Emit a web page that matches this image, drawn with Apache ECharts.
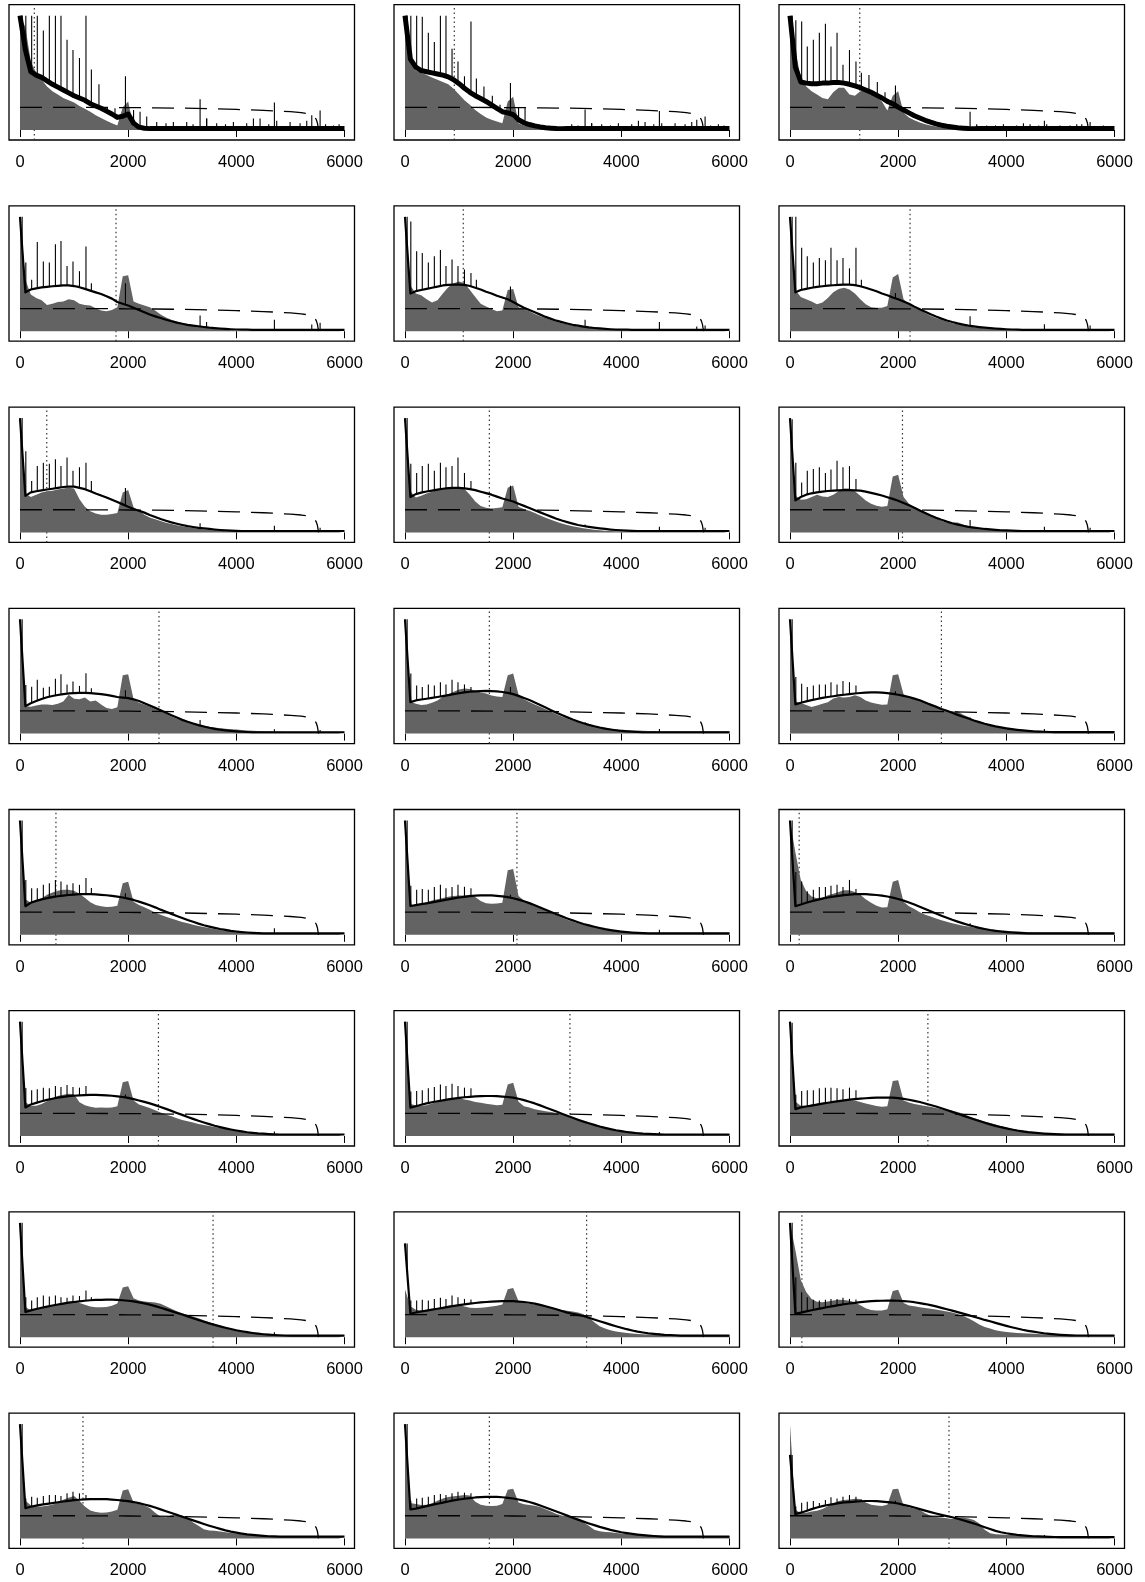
<!DOCTYPE html>
<html><head><meta charset="utf-8">
<script src="https://cdn.jsdelivr.net/npm/echarts@6/dist/echarts.min.js"></script>
<style>html,body{margin:0;padding:0;background:#fff}#c{width:1145px;height:1582px}</style>
</head><body><div id="c"></div>
<script>
const xs = [0,100,200,300,400,500,600,700,800,900,1000,1100,1200,1300,1400,1500,1600,1700,1800,1900,2000,2100,2200,2300,2400,2500,2600,2700,2800,2900,3000,3100,3200,3300,3400,3500,3600,3700,3800,3900,4000,4100,4200,4300,4400,4500,4600,4700,4800,4900,5000,5100,5200,5300,5400,5500,5600,5700,5800,5900,6000];
const tickValues = [0,2000,4000,6000];
const dashX = [0,1000,2000,2500,3000,3500,4000,4500,5000,5200,5300,5400,5450,5480,5500,5510,5520];
const dashY = [19.8,19.8,19.6,19.4,19.1,18.6,18,17.2,16,15.2,14.5,13,11.5,9,6,3,0];
const spikeX = [40,108,216,320,432,543,655,758,870,980,1100,1220,1320,1460,1615,1757,1950,2100,2220,3330,3450,4704,5395,5549];
const noiseX = [2343,2528,2700,2836,3083,3200,3453,3637,3800,3946,4192,4316,4439,4600,4747,4994,5179,5302,5650,5795,5900];
const dotX = [265,912,1290,1776,1078,2220,495,1560,2080,2570,1560,2800,665,2070,170,2560,3050,2550,3570,3358,220,1165,1560,2940];

const gray01 = [100,90,60,50,44,38,34,31,28,26, 24,21,18.5,16,13,10.5,8,6,4,20, 25,3,1.5,0.5,0.3,0.3,0.3,0.3,0.3,0.3, 0.3,0.3,0.3,0.3,0.3,0.3,0.3,0.3,0.3,0.3, 0.3,0.3,0.3,0.3,0.3,0.3,0.3,0.3,0.3,0.3, 0.3,0.3,0.3,0.3,0.3,0.3,0.3,0.3,0.3,0.3, 0.3];
const line01 = [100,70,51,48,46,43,40,37.5,35,32.5, 30,28,26,23,21,19,16.5,14,11,12, 14,6,2.5,1.5,1.2,1.2,1.2,1.2,1.2,1.2, 1.2,1.2,1.2,1.2,1.2,1.2,1.2,1.2,1.2,1.2, 1.2,1.2,1.2,1.2,1.2,1.2,1.2,1.2,1.2,1.2, 1.2,1.2,1.2,1.2,1.2,1.2,1.2,1.2,1.2,1.2, 1.2];
const spk01 = [100,100,100,100,87,100,100,100,79,70,63,100,53,40,20,19,47,17.5,16,27,10,24,13,17];
const noise01 = [11.7,7,6,7,7,5,10,6,5,7,6,10,10,5,8,7,6,8,5,4,5];

const gray02 = [100,62,52,50,48,46,44,42,40,36, 31,26,22,17.5,14,11,9,7.5,6,25, 29,6,4,3,2.3,2,1.5,1.2,0.6,0.3, 0.3,0.3,0.3,0.3,0.3,0.3,0.3,0.3,0.3,0.3, 0.3,0.3,0.3,0.3,0.3,0.3,0.3,0.3,0.3,0.3, 0.3,0.3,0.3,0.3,0.3,0.3,0.3,0.3,0.3,0.3, 0.3];
const line02 = [100,62,55,52,51,50,49,48,46.5,44, 40.5,36.5,33,30,27.5,25,22,19,16,15, 13.5,9,6.3,4.8,3.6,2.7,2,1.6,1.3,1.2, 1.2,1.2,1.2,1.2,1.2,1.2,1.2,1.2,1.2,1.2, 1.2,1.2,1.2,1.2,1.2,1.2,1.2,1.2,1.2,1.2, 1.2,1.2,1.2,1.2,1.2,1.2,1.2,1.2,1.2,1.2, 1.2];
const spk02 = [100,100,100,99,85,77,100,100,71,60,47,95,45,38,30,22,41,20,20,18,6,16.6,9,11.7];
const noise02 = [0,0,0,0,5,4,6,5,4,6,5,8,7,5,6,6,5,7,4,5,4];

const gray03 = [100,70,45,38,34,31,28,27,33,37, 37,31,30,34,35,32,29,25,17,30, 34,15,11,8.5,6.5,5,4,3,2,1.5, 1,0.5,0.3,0.3,0.3,0.3,0.3,0.3,0.3,0.3, 0.3,0.3,0.3,0.3,0.3,0.3,0.3,0.3,0.3,0.3, 0.3,0.3,0.3,0.3,0.3,0.3,0.3,0.3,0.3,0.3, 0.3];
const line03 = [100,55,42,41,40.5,40.5,41,41,41.5,41.5, 41,40,38.5,37,35,33,30.5,28,25,23, 20,17.5,15,12.5,10.5,8.5,6.8,5.3,4.2,3.3, 2.6,2,1.6,1.3,1.2,1.2,1.2,1.2,1.2,1.2, 1.2,1.2,1.2,1.2,1.2,1.2,1.2,1.2,1.2,1.2, 1.2,1.2,1.2,1.2,1.2,1.2,1.2,1.2,1.2,1.2, 1.2];
const spk03 = [100,96,95,73,79,85,93,73,85,57,70,60,50,48,42,33,39,20,14,16,4,8,5,7];
const noise03 = [0,0,0,0,0,0,5,4,4,5,4,6,5,4,5,4,4,5,3,4,3];

const gray04 = [100,45,32,29,27,23,24,25.5,26,28, 27,24,23,22.5,20,18,17.5,18.5,21,48, 49,26,24,22.5,21,18,14.5,12,10,8.5, 7,5.8,4.7,3.8,3.2,2.6,2,1.6,1.2,0.9, 0.7,0.5,0.5,0.5,0.5,0.5,0.5,0.5,0.5,0.5, 0.5,0.5,0.5,0.5,0.5,0.5,0.5,0.5,0.5,0.5, 0.5];
const line04 = [100,34,36.5,37.5,38.3,38.8,39.3,39.7,40,40, 39.5,38.5,37,35.5,34,32.5,30.5,28.5,25.5,24, 22.5,20.5,18.5,16.5,14.6,13,11.5,10,8.7,7.5, 6.5,5.6,4.9,4.3,3.7,3.1,2.7,2.3,2,1.7, 1.5,1.4,1.3,1.2,1.2,1.2,1.2,1.2,1.2,1.2, 1.2,1.2,1.2,1.2,1.2,1.2,1.2,1.2,1.2,1.2, 1.2];
const spk04 = [100,60,45,78,61,60,76,79,57,61,52.5,74,42,0,0,0,42,0,0,13.7,8,10,5.8,7.3];

const gray05 = [100,40,33,31.5,28,25,27,33,38.5,42, 43.5,42,36,30,24,21.5,19.5,17.5,18,36, 37,21,19.5,17.5,15,13,11.5,9.8,8.2,7, 6,5,4.2,3.6,3,2.4,2,1.6,1.3,1, 0.8,0.6,0.5,0.5,0.5,0.5,0.5,0.5,0.5,0.5, 0.5,0.5,0.5,0.5,0.5,0.5,0.5,0.5,0.5,0.5, 0.5];
const line05 = [100,33,35,36,37,38,39,40,40.5,40.8, 40.8,40.5,39.5,38,36.5,34.5,33,31,29.5,28, 25.5,23,20.5,18.5,16.5,14.5,12.5,10.8,9.2,7.9, 6.7,5.6,4.8,4,3.3,2.8,2.4,2,1.7,1.5, 1.4,1.3,1.2,1.2,1.2,1.2,1.2,1.2,1.2,1.2, 1.2,1.2,1.2,1.2,1.2,1.2,1.2,1.2,1.2,1.2, 1.2];
const spk05 = [100,96,70,68.5,60,65.6,71,57,62.7,57,54,51,45,0,0,0,39,0,0,10,0,8,4,5];

const gray06 = [100,36,30,28,26,23.5,25,29,34,37, 38,36.5,33,28,23.5,21,20.5,20.5,22,47, 50,28,23.5,21,19,16,13.5,11.5,10,8.5, 7,6,5,4.2,3.5,3,2.5,2,1.6,1.3, 1,0.8,0.6,0.6,0.6,0.6,0.6,0.6,0.6,0.6, 0.6,0.6,0.6,0.6,0.6,0.6,0.6,0.6,0.6,0.6, 0.6];
const line06 = [100,34,36,37,38,38.8,39.3,39.8,40.2,40.5, 40.8,40.8,40.3,39.3,38,36.5,35,33,31.5,29.5, 28,26,24,21.5,19.2,17,14.8,12.8,11,9.4, 8,6.8,5.8,4.9,4.2,3.6,3.1,2.7,2.3,2, 1.7,1.5,1.4,1.2,1.2,1.2,1.2,1.2,1.2,1.2, 1.2,1.2,1.2,1.2,1.2,1.2,1.2,1.2,1.2,1.2, 1.2];
const spk06 = [100,100,73,65.6,60,64,62,73,62,64,55,73,45,0,0,0,33.5,0,0,13,0,6,0,5];

const gray07 = [100,34,31,33,35,36,36.5,37.5,38.5,39, 38.5,29,22.5,18.5,16.5,15.5,15.5,16,17,35, 37,22,19,15.5,13,11.5,10,8.5,7.3,6.3, 5.4,4.6,3.9,3.2,2.6,2.1,1.7,1.4,1.1,0.9, 0.7,0.7,0.7,0.7,0.7,0.7,0.7,0.7,0.7,0.7, 0.7,0.7,0.7,0.7,0.7,0.7,0.7,0.7,0.7,0.7, 0.7];
const line07 = [100,32,35,36,36.8,37.5,38.2,39,39.7,40, 40,39,37.8,36,34,32.3,30.5,28.5,26.5,24.5, 22.4,20.5,19,17.3,15.3,13.5,11.7,10.2,8.8,7.6, 6.5,5.5,4.7,4,3.5,3,2.5,2.1,1.8,1.6, 1.4,1.2,1.2,1.2,1.2,1.2,1.2,1.2,1.2,1.2, 1.2,1.2,1.2,1.2,1.2,1.2,1.2,1.2,1.2,1.2, 1.2];
const spk07 = [100,71,45,58,61,60,64,58,65.6,54,57,61,45,0,0,0,38.8,0,0,8,0,5.8,0,4];

const gray08 = [100,36,30.5,32,34,35.5,37,38.5,39,39, 39,38,33,27,23,21.5,21,21.3,22,39, 41,22.5,20.5,19,17,14.8,12.8,11,9.3,7.8, 6.5,5.4,4.4,3.6,3,2.4,1.9,1.5,1.2,1, 0.8,0.8,0.8,0.8,0.8,0.8,0.8,0.8,0.8,0.8, 0.8,0.8,0.8,0.8,0.8,0.8,0.8,0.8,0.8,0.8, 0.8];
const line08 = [100,31,33.5,34.8,35.8,36.6,37.4,38.2,38.7,38.9, 38.9,38.5,37.8,37,35.6,34.3,33,31.3,29.6,28.3, 27,25,23.2,21.3,19.4,17.5,15.6,13.8,12,10.4, 9,7.7,6.5,5.6,4.8,4.1,3.5,3,2.5,2.1, 1.8,1.6,1.4,1.2,1.2,1.2,1.2,1.2,1.2,1.2, 1.2,1.2,1.2,1.2,1.2,1.2,1.2,1.2,1.2,1.2, 1.2];
const spk08 = [100,60,52,58,60,54,61,57,58,65.6,52,45,0,0,0,0,40.8,0,0,7,0,5,0,4];

const gray09 = [100,32,28.5,29,31,33,31.5,31,33,36, 38.5,38.5,36,32,28,25,23.3,22.5,23,49, 50.5,31,25,22,19.5,17,15,12.5,10,8.5, 8.5,8.7,7,5,4,3.3,2.8,2.3,1.8,1.5, 1.3,1.1,1,1,1,1,1,1,1,1, 1,1,1,1,1,1,1,1,1,1, 1];
const line09 = [100,28,31,33,34.2,35,35.7,36.2,36.5,36.8, 37,37,36.8,36.5,35.6,34.6,33.5,32.3,30.8,29.3, 27.7,25.8,23.7,21.5,19.2,17,14.8,12.8,11,9.4, 8,6.8,5.8,4.9,4.2,3.6,3,2.6,2.2,1.9, 1.7,1.5,1.4,1.2,1.2,1.2,1.2,1.2,1.2,1.2, 1.2,1.2,1.2,1.2,1.2,1.2,1.2,1.2,1.2,1.2, 1.2];
const spk09 = [99,61,43.7,54,55.4,57,52,55,62.7,57,58,46.6,0,0,0,0,0,0,0,10.8,0,5,0,4];

const gray10 = [100,24,23.5,24.5,25.5,25.5,25,26,28,34, 30.5,30,31.5,28,29,25.5,22.3,21.6,23,51, 52,30,27,25.5,23.6,21.2,19.5,17.3,15,13, 11.3,10,8.7,7.7,6.8,6,5.3,4.7,4.2,3.9, 3.5,3.1,2.8,2.5,2.3,2.1,2,1.9,1.8,1.7, 1.7,1.7,1.7,1.7,1.7,1.7,1.7,1.7,1.7,1.7, 1.7];
const line10 = [100,24,26.5,28.5,30.3,31.8,32.9,33.8,34.6,35.1, 35.4,35.6,35.6,35.4,35,34.5,33.8,33,32,31.5, 31,30,28.5,26.5,24.5,22.5,20.5,18.3,16,14, 12,10.3,8.8,7.4,6.2,5.1,4.2,3.4,2.8,2.3, 1.9,1.6,1.4,1.2,1.2,1.2,1.2,1.2,1.2,1.2, 1.2,1.2,1.2,1.2,1.2,1.2,1.2,1.2,1.2,1.2, 1.2];
const spk10 = [100,42.6,41,47,40,41,48,52,43,45.5,41.7,52.8,39.7,0,0,0,38,0,0,12,0,3.8,0,3.2];

const gray11 = [100,28,26,25,25.5,27,29,32.3,34.5,36.7, 38.5,39.4,39,37.5,36,35,33.3,32.5,32,51, 52.5,34,30,27.7,25.5,23.4,21.3,19.2,17,15, 13,11.5,10,8.8,7.7,6.7,5.8,5,4.3,3.8, 3.4,3.1,2.9,2.7,2.5,2.3,2.2,2.1,2,2, 2,2,2,2,2,2,2,2,2,2, 2];
const line11 = [100,27.5,29,29.8,30.5,31.2,32,32.8,33.7,34.5, 35.3,36,36.6,37,37.2,37.3,37.2,36.9,36.4,35.6, 34.5,33,31.2,29.3,27.2,25,22.8,20.5,18.3,16.2, 14.2,12.3,10.6,9,7.6,6.4,5.3,4.4,3.6,2.9, 2.3,1.9,1.6,1.4,1.2,1.2,1.2,1.2,1.2,1.2, 1.2,1.2,1.2,1.2,1.2,1.2,1.2,1.2,1.2,1.2, 1.2];
const spk11 = [100,52.5,42,40.8,43,42,45,43,47,45,43,40.8,0,0,0,0,40.8,0,0,10,0,4,0,0];

const gray12 = [100,28,26.8,25,23.3,24.5,26,27.5,30.6,32, 31.5,32,33.5,32,29,27.3,26.2,25.2,25.5,51, 52,34.5,32,30.5,29,27.5,26.3,24.5,22,20, 19.5,19.5,16.5,14.5,12,10.5,9,7.8,6.7,5.7, 4.9,4.2,3.7,3.4,3,2.7,2.5,2.3,2,2, 2,2,2,2,2,2,2,2,2,2, 2];
const line12 = [100,25.5,27,28.2,29.3,30.3,31.2,32,32.7,33.4, 34,34.6,35.1,35.5,35.8,36,36,35.8,35.4,34.8, 34,33,32,30.6,29.2,27.2,25.3,23.5,21.5,20, 18.2,16.4,14.8,13.2,11.5,10,8.6,7.4,6.3,5.4, 4.6,3.9,3.3,2.8,2.4,2,1.8,1.6,1.4,1.3, 1.3,1.3,1.3,1.3,1.3,1.3,1.3,1.3,1.3,1.3, 1.3];
const spk12 = [100,49.6,43.7,40.8,42,43,43,45,43,46,45,42,0,0,0,0,37,0,0,14,0,4,0,0];

const gray13 = [100,31,28,29.5,32,35,37,38.5,39.3,39.3, 38.5,36,32.5,28.5,26,25,24.3,24.5,25.5,45, 46.5,29,26,24,22,19.5,17.5,15.8,14.3,12.7, 11.3,10,8.8,7.7,6.8,5.9,5,4.3,3.6,3.1, 2.7,2.3,2.1,1.9,1.8,1.6,1.6,1.6,1.6,1.6, 1.6,1.6,1.6,1.6,1.6,1.6,1.6,1.6,1.6,1.6, 1.6];
const line13 = [100,25,28,29.7,31,32.1,33,33.7,34.3,34.8, 35.2,35.5,35.6,35.5,35.3,35,34.6,34,33.4,32.6, 31.6,30.5,29,27.5,25.8,24,22,20.2,18.3,16.5, 14.7,13,11.4,9.8,8.4,7.2,6.1,5.1,4.3,3.5, 2.9,2.4,2,1.7,1.5,1.3,1.3,1.3,1.3,1.3, 1.3,1.3,1.3,1.3,1.3,1.3,1.3,1.3,1.3,1.3, 1.3];
const spk13 = [100,48,40.8,40.8,43.7,45,48,46.6,43.7,45,43.7,49.6,41,0,0,0,36.4,0,0,0,0,5.8,0,0];

const gray14 = [100,26,26,27,28.5,30,31,32.2,33.3,34, 34.4,34.3,35,33,29.5,27.7,27.2,27.4,28,56.5, 57.5,34,30,27.7,25.5,23.4,21.3,19.2,17,15, 13.2,11.5,10,8.8,7.7,6.6,5.6,4.7,4,3.5, 3,2.6,2.3,2.1,2,1.8,1.8,1.8,1.8,1.8, 1.8,1.8,1.8,1.8,1.8,1.8,1.8,1.8,1.8,1.8, 1.8];
const line14 = [100,25.2,26,26.8,27.5,28.3,29.2,30.1,31,31.8, 32.6,33.2,33.8,34.2,34.4,34.5,34.4,34.1,33.6,32.9, 32,30.8,29.4,27.7,25.8,23.9,22,20,18,16.1, 14.3,12.6,11,9.5,8.2,7,5.9,4.9,4.1,3.4, 2.8,2.3,1.9,1.6,1.4,1.3,1.3,1.3,1.3,1.3, 1.3,1.3,1.3,1.3,1.3,1.3,1.3,1.3,1.3,1.3, 1.3];
const spk14 = [100,43,39.4,40,39.4,41.7,43.7,40.8,41.7,43.7,42,40.8,0,0,0,0,35,0,0,0,0,4.4,0,0];

const gray15 = [100,72,48,38,33.5,32,32.5,34.5,36,37.5, 39,39,37.5,35,31,28,25.5,23.8,24,46.5, 48,29,25,22.5,19.8,17.6,16,14.3,12.8,11.5, 10.2,9,8,7.2,6.4,5.7,5,4.6,4.2,3.8, 3.5,3.1,2.8,2.6,2.3,2.1,2,2,2,2, 2,2,2,2,2,2,2,2,2,2, 2];
const line15 = [100,25,26.5,28,29.3,30.5,31.6,32.6,33.4,34.1, 34.7,35.2,35.5,35.6,35.5,35.2,34.8,34.2,33.5,32.5, 31.3,29.9,28.3,26.5,24.6,22.5,20.5,18.6,16.7,14.9, 13.1,11.5,10,8.6,7.3,6.1,5.1,4.2,3.5,2.9, 2.4,2,1.7,1.5,1.3,1.3,1.3,1.3,1.3,1.3, 1.3,1.3,1.3,1.3,1.3,1.3,1.3,1.3,1.3,1.3, 1.3];
const spk15 = [100,55,46.6,38,39.4,41.7,41.7,42.9,43.7,41.7,48,40,0,0,0,0,0,0,0,10,0,0,0,0];

const gray16 = [100,29.5,26.5,26.5,28,30.5,33,35,36,37, 36.5,29.5,27,25.5,24.8,25,24.8,25,26,47, 48,31,27.5,26,24.5,22.5,20.5,18.7,17.2,15.5, 14,12.8,11.7,10.6,9.6,8.7,7.8,7,6.3,5.6, 4.8,4.2,3.6,3,2.6,2.3,2,1.7,1.7,1.7, 1.7,1.7,1.7,1.7,1.7,1.7,1.7,1.7,1.7,1.7, 1.7];
const line16 = [100,25,27.5,29,30.4,31.6,32.6,33.5,34.2,34.8, 35.2,35.6,35.8,35.9,35.9,35.8,35.6,35.2,34.7,34.1, 33.3,32.3,31.1,29.8,28.5,27,25.3,23.7,22,20.2, 18.5,16.7,15,13.3,11.8,10.4,9,7.8,6.7,5.7, 4.8,4,3.3,2.8,2.3,2,1.7,1.5,1.3,1.3, 1.3,1.3,1.3,1.3,1.3,1.3,1.3,1.3,1.3,1.3, 1.3];
const spk16 = [100,42,40,40.8,42.3,41.7,43.7,42.9,44.6,42.9,42.3,43.7,0,0,0,0,36.4,0,0,0,0,4,0,0];

const gray17 = [100,28,27,26.5,27,28.5,30,31.3,32.5,33.2, 33.3,32,31,29.8,29,28.3,27.5,27,27.3,45, 46.5,30,26,25,23.5,22.5,21.7,21,20.2,19.2, 17.5,15.8,14.3,12.4,11,9.7,8.5,7.4,6.4,5.5, 4.7,4,3.4,3,2.6,2.3,2.1,1.8,1.8,1.8, 1.8,1.8,1.8,1.8,1.8,1.8,1.8,1.8,1.8,1.8, 1.8];
const line17 = [100,24.8,26,27.3,28.5,29.5,30.4,31.2,32,32.7, 33.4,33.9,34.3,34.6,34.8,35,35,34.8,34.5,34.1, 33.5,32.6,31.4,30,28.5,26.8,25,23.2,21.4,19.5, 17.7,15.9,14.2,12.6,11.1,9.7,8.3,7.1,6,5, 4.2,3.5,2.9,2.4,2,1.8,1.6,1.4,1.3,1.3, 1.3,1.3,1.3,1.3,1.3,1.3,1.3,1.3,1.3,1.3, 1.3];
const spk17 = [100,39,39.4,40,41.7,42.9,45,43.7,45.8,43.7,42.3,41.7,0,0,0,0,0,0,0,0,0,3.5,0,0];

const gray18 = [100,30,26.5,26.5,27.5,28.3,29,29.5,30,30.5, 31.5,31.5,31,29.8,28.5,27.3,26.3,25.6,26,48, 48.7,31,29.3,28,27.2,26.3,25.5,24.5,23.4,22.7, 22,21,19.5,17.6,15.8,14.2,12.7,11.3,10,8.7, 7.5,6.4,5.5,4.6,3.9,3.3,2.8,2.4,2.1,2, 2,2,2,2,2,2,2,2,2,2, 2];
const line18 = [100,23.5,25,25.8,26.6,27.5,28.3,29.1,29.8,30.5, 31.2,31.8,32.3,32.7,33,33.3,33.5,33.6,33.6,33.5, 33.2,32.5,31.7,30.7,29.7,28.4,27.1,25.8,24.2,22.7, 21.1,19.5,17.8,16.2,14.6,13.1,11.6,10.2,8.9,7.7, 6.7,5.7,4.8,4.1,3.4,2.9,2.5,2.1,1.8,1.6, 1.4,1.3,1.3,1.3,1.3,1.3,1.3,1.3,1.3,1.3, 1.3];
const spk18 = [99,36,39.4,40,40,41.7,42.3,42.3,41.7,40.8,42.3,40,0,0,0,0,0,0,0,0,0,0,0,0];

const gray19 = [100,26.5,23.5,24.8,25.7,26.8,27.8,29,30.2,31, 31.5,30,28.3,26.8,26.2,26.2,26.5,27.5,29.5,43.5, 44.5,34,32,31.3,30.8,30.3,29.2,27,24.8,22.8, 21,19.5,18,16.5,14.8,13,11.3,9.7,8.3,7, 5.8,4.9,4.1,3.5,3,2.6,2.2,1.9,1.6,1.6, 1.6,1.6,1.6,1.6,1.6,1.6,1.6,1.6,1.6,1.6, 1.6];
const line19 = [100,22,23.5,24.7,25.8,26.8,27.7,28.6,29.4,30.2, 30.8,31.4,31.9,32.3,32.6,32.7,32.8,32.8,32.6,32.3, 31.9,31.3,30.5,29.6,28.5,27.2,25.8,24.3,22.8,21.3, 19.8,18.2,16.6,15,13.5,12.1,10.8,9.5,8.3,7.2, 6.1,5.2,4.4,3.7,3.1,2.6,2.2,1.9,1.7,1.5, 1.4,1.4,1.4,1.4,1.4,1.4,1.4,1.4,1.4,1.4, 1.4];
const spk19 = [100,35,32,35,36.4,35.5,36.4,35,34.4,36.4,36,40.8,35,0,0,0,0,0,0,0,0,4.4,0,0];

const gray20 = [42,27,24,23.3,23.8,24.5,25.3,26.2,27.4,28.3, 28.3,26.8,25.8,25.6,25.8,26.2,26.8,27.4,28.5,42, 43,31.5,30.2,29.3,28.5,27.7,27,25.8,24.7,23.8, 23.2,22.5,21.5,20,17.5,13,9.5,7.5,6,5, 4.3,3.7,3.2,2.8,2.5,2.2,2,1.9,1.8,1.8, 1.8,1.8,1.8,1.8,1.8,1.8,1.8,1.8,1.8,1.8, 1.8];
const line20 = [82,20.5,21.6,22.5,23.3,24.1,24.9,25.7,26.5,27.3, 28,28.7,29.3,29.9,30.4,30.8,31.1,31.3,31.5,31.5, 31.5,31.2,30.8,30.1,29.3,28.3,27.1,25.8,24.4,22.9, 21.5,20.5,19.5,18.5,17,15.5,14,12.5,11,9.6, 8.3,7,5.9,4.9,4.1,3.4,2.9,2.5,2.1,1.9, 1.7,1.4,1.4,1.4,1.4,1.4,1.4,1.4,1.4,1.4, 1.4];
const spk20 = [82,32,32,32.7,32,33.5,34.4,33.5,36.4,35,33.5,33,0,0,0,0,0,0,0,0,0,3.5,0,0];

const gray21 = [100,76,50,39.5,33.5,31,30.6,31.2,32,32.7, 32.5,31.8,30.6,28,25.3,23.8,23.3,23.3,24.5,40.5, 41.5,30,27.8,27,26.3,25.6,24.9,24.2,23.4,22.4, 21.5,20.2,18.6,16.5,14,11,9,7.5,6.1,5.2, 4.5,4.1,3.7,3.4,3.2,3,2.7,2.4,2.2,2, 2,2,2,2,2,2,2,2,2,2, 2];
const line21 = [100,20.5,21.5,22.6,23.6,24.6,25.5,26.4,27.2,28, 28.8,29.5,30.1,30.6,31.1,31.5,31.7,31.9,32,32, 31.9,31.6,31.2,30.6,29.8,29,28,27,25.7,24.4, 23.2,21.9,20.6,19.3,17.9,16.6,15.1,13.9,12.5,11.2, 9.9,8.7,7.6,6.5,5.6,4.8,4.1,3.4,2.9,2.5, 2.1,1.8,1.6,1.5,1.5,1.5,1.5,1.5,1.5,1.5, 1.5];
const spk21 = [100,52.5,39.4,35,32.7,32,32.7,33.5,33.5,34.4,33.5,33,0,0,0,0,0,0,0,0,0,0,0,0];

const gray22 = [100,33,29,27.8,28,28.5,29.5,31.5,33.8,35.5, 37,33,28,24.5,23,22.4,22.6,23.5,25,42, 43,31.5,30,28.7,26.5,22.5,19,18.5,20.2,20.4, 20,18.3,14,11,8,7,6.6,6,5.3,4.7, 4.2,3.7,3.3,3,2.7,2.4,2.1,1.9,1.7,1.7, 1.7,1.7,1.7,1.7,1.7,1.7,1.7,1.7,1.7,1.7, 1.7];
const line22 = [100,26.5,27.7,28.7,29.5,30.2,30.9,31.6,32.3,32.9, 33.4,33.8,34.1,34.3,34.4,34.4,34.3,34,33.6,33.1, 32.6,31.8,30.8,29.6,28.4,27,25.4,23.8,22.2,20.6, 19,17.4,15.8,14.2,12.6,11.1,9.7,8.3,7,5.9, 5,4.2,3.5,3,2.6,2.2,1.9,1.7,1.5,1.5, 1.5,1.5,1.5,1.5,1.5,1.5,1.5,1.5,1.5,1.5, 1.5];
const spk22 = [100,35,36.4,35.6,37,37.9,37.9,37,39.4,40.8,39.4,37.9,0,0,0,0,0,0,0,0,0,0,0,0];

const gray23 = [100,31,30,29.2,29.5,30.8,33,35,36.3,36.8, 37.3,38,37.5,32,29.5,28.5,28.3,28.5,30,42.5, 43.5,31.5,29.8,29.3,28.6,27.5,25.6,23.5,21.3,20, 19.3,17.6,16.3,14,11,7.6,6.2,5.6,5.3,4.8, 4.3,3.9,3.4,3,2.6,2.3,2,1.8,1.8,1.8, 1.8,1.8,1.8,1.8,1.8,1.8,1.8,1.8,1.8,1.8, 1.8];
const line23 = [100,25.3,26.1,27.1,28.2,29.3,30.3,31.3,32.3,33.2, 34,34.7,35.3,35.8,36.1,36.3,36.4,36.3,36,35.5, 34.9,34,33,31.8,30.4,28.8,27.1,25.3,23.5,21.7, 19.9,18.1,16.4,14.7,13.1,11.6,10.1,8.8,7.5,6.4, 5.4,4.6,3.9,3.3,2.8,2.4,2.1,1.8,1.5,1.5, 1.5,1.5,1.5,1.5,1.5,1.5,1.5,1.5,1.5,1.5, 1.5];
const spk23 = [100,33,35,35.6,36.4,37.9,38.8,37.9,39.4,40.8,40,39.4,0,0,0,0,0,0,0,0,0,0,0,0];

const gray24 = [100,25,22,22.5,23.5,24.2,25.8,28.2,30.6,32.8, 33.6,34,34.7,34.5,31.5,29.5,28.7,28.3,29.5,43, 43.5,28.5,27,26.2,24.8,22,19.8,18.8,18.2,17.7, 17,18,18.3,17.5,16,13,7.5,4.4,3.6,3.4, 3.2,2.9,2.5,2.2,2,1.8,1.7,1.7,1.7,1.7, 1.7,1.7,1.7,1.7,1.7,1.7,1.7,1.7,1.7,1.7, 1.7];
const line24 = [73,21.3,22.5,24,25.6,27,28.2,29.2,30,30.8, 31.5,31.8,32.1,32.5,32.7,32.7,32.6,32.2,31.8,31.3, 30.5,29.3,28.2,27,25.6,24.3,23,21.8,20.6,19.5, 18.5,17.3,15.9,14.5,13,11.5,9.8,8.2,6.6,5.4, 4.5,3.8,3.1,2.6,2.2,1.9,1.7,1.5,1.3,1.2, 1.2,1.2,1.2,1.2,1.2,1.2,1.2,1.2,1.2,1.2, 1.2];
const spk24 = [73,28,31.2,32,32.7,31,33.5,35.9,35,36.4,37.9,36.4,34,0,0,0,33,0,0,0,0,3,0,0];

const grays = [gray01,gray02,gray03,gray04,gray05,gray06,gray07,gray08,gray09,gray10,gray11,gray12,gray13,gray14,gray15,gray16,gray17,gray18,gray19,gray20,gray21,gray22,gray23,gray24];
const lines = [line01,line02,line03,line04,line05,line06,line07,line08,line09,line10,line11,line12,line13,line14,line15,line16,line17,line18,line19,line20,line21,line22,line23,line24];
const spikes = [spk01,spk02,spk03,spk04,spk05,spk06,spk07,spk08,spk09,spk10,spk11,spk12,spk13,spk14,spk15,spk16,spk17,spk18,spk19,spk20,spk21,spk22,spk23,spk24];
const noises = [noise01,noise02,noise03];

grays.forEach((a,i)=>{ if(a.length!==61) throw new Error('gray'+(i+1)+' len '+a.length); });
lines.forEach((a,i)=>{ if(a.length!==61) throw new Error('line'+(i+1)+' len '+a.length); });
spikes.forEach((a,i)=>{ if(a.length!==spikeX.length) throw new Error('spk'+(i+1)+' len '+a.length); });
noises.forEach((a,i)=>{ if(a.length!==noiseX.length) throw new Error('noise'+(i+1)+' len '+a.length); });

const Y_MIN = -8.75, Y_MAX = 109.6;
function baseAt(arr, x){ const k = Math.min(59, Math.floor(x/100)); const t = (x - k*100)/100; return arr[k]*(1-t) + arr[k+1]*t; }

const grids=[], xAxes=[], yAxes=[], series=[];
for (let i=0;i<24;i++){
  const r = Math.floor(i/3), c = i%3;
  grids.push({left: 9+385*c, top: 4.7+201.2*r, width: 345.5, height: 135.3, show:true, borderColor:'#000', borderWidth:1.3, backgroundColor:'rgba(0,0,0,0)'});
  xAxes.push({gridIndex:i, type:'value', min:-203, max:6185,
    axisLine:{show:false}, splitLine:{show:false},
    axisTick:{show:true, customValues:tickValues, length:7, lineStyle:{color:'#000', width:1}},
    axisLabel:{show:true, customValues:tickValues, margin:14, fontSize:16.5, color:'#000',
      fontFamily:'Liberation Sans, Arial, sans-serif', formatter:(v)=>String(v)}});
  yAxes.push({gridIndex:i, type:'value', min:Y_MIN, max:Y_MAX, show:false, splitLine:{show:false}});
  series.push({type:'line', xAxisIndex:i, yAxisIndex:i, data:[[dotX[i],Y_MIN],[dotX[i],Y_MAX]], symbol:'none', silent:true,
    lineStyle:{color:'#333', width:1.2, type:[1.5,3]}, z:1});
  series.push({type:'line', xAxisIndex:i, yAxisIndex:i, data: xs.map((x,k)=>[x, grays[i][k]]), symbol:'none', silent:true,
    lineStyle:{width:0, opacity:0}, areaStyle:{color:'#636363', opacity:1}, z:2});
  series.push({type:'line', xAxisIndex:i, yAxisIndex:i, data: dashX.map((x,k)=>[x, dashY[k]]), symbol:'none', silent:true,
    lineStyle:{color:'#000', width:1.3, type:[22,11]}, z:3});
  series.push({type:'line', xAxisIndex:i, yAxisIndex:i, data: xs.map((x,k)=>[x, lines[i][k]]), symbol:'none', silent:true,
    lineStyle:{color:'#000', width: r===0 ? 5 : 2.2, join:'round'}, z:4});
  const sd = [];
  spikeX.forEach((x,k)=>{ const top = spikes[i][k]; const b = baseAt(lines[i], x); if (top > b + 0.5) sd.push([x, top, b]); });
  if (i < 3) noiseX.forEach((x,k)=>{ const top = noises[i][k]; const b = baseAt(lines[i], x); if (top > b + 0.5) sd.push([x, top, b]); });
  series.push({type:'custom', xAxisIndex:i, yAxisIndex:i, data: sd, silent:true, z:5,
    encode:{x:0, y:[1,2]},
    renderItem:(params, api)=>{
      const p1 = api.coord([api.value(0), api.value(2)]);
      const p2 = api.coord([api.value(0), api.value(1)]);
      return {type:'line', shape:{x1:p1[0], y1:p1[1], x2:p2[0], y2:p2[1]}, style:{stroke:'#000', lineWidth:1.1}};
    }});
}
const chart = echarts.init(document.getElementById('c'), null, {renderer:'canvas'});
chart.setOption({animation:false, backgroundColor:'#fff', grid:grids, xAxis:xAxes, yAxis:yAxes, series:series});
</script>
</body></html>
